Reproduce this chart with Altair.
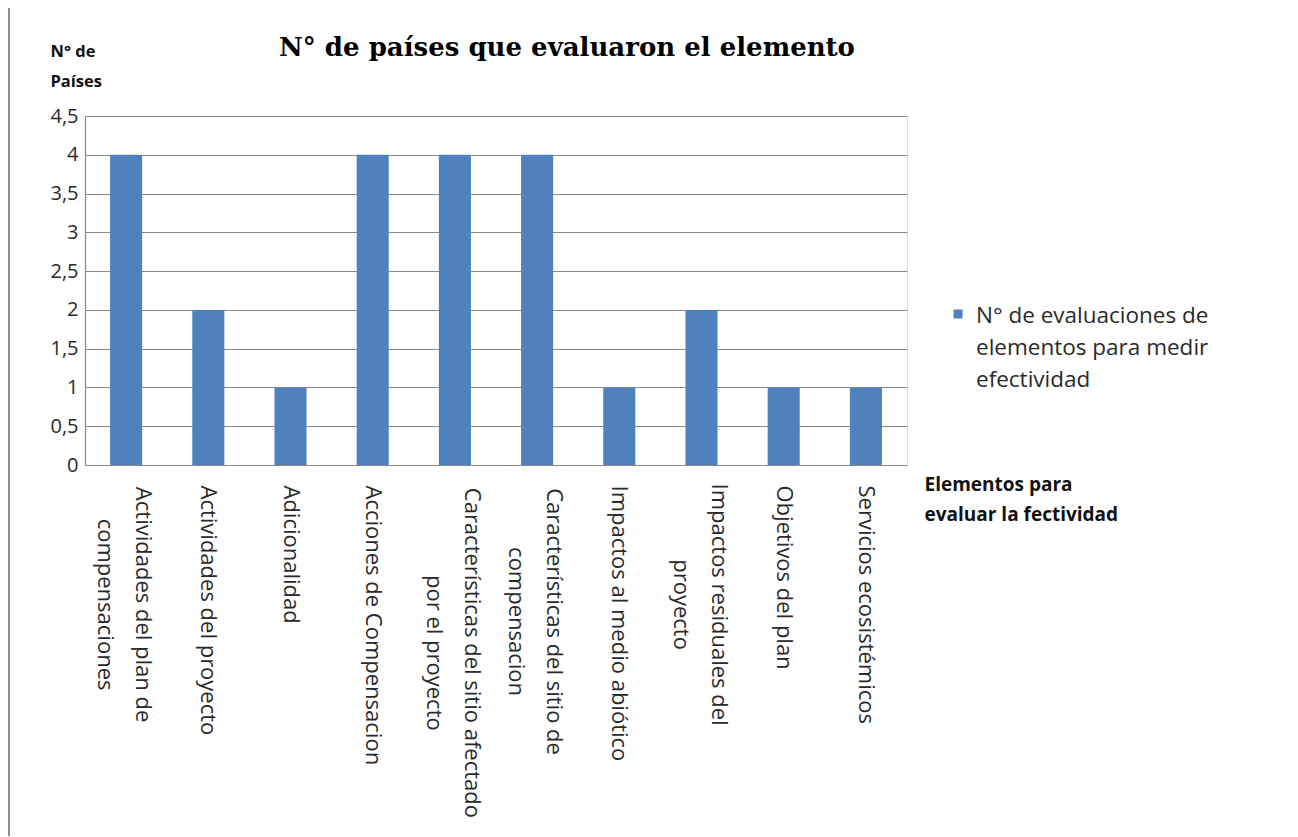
import altair as alt
import pandas as pd

categories = [
    "Actividades del plan de|compensaciones",
    "Actividades del proyecto",
    "Adicionalidad",
    "Acciones de Compensacion",
    "Características del sitio afectado|por el proyecto",
    "Características del sitio de|compensacion",
    "Impactos al medio abiótico",
    "Impactos residuales del|proyecto",
    "Objetivos del plan",
    "Servicios ecosistémicos",
]
values = [4, 2, 1, 4, 4, 4, 1, 2, 1, 1]
series_name = "N° de evaluaciones de|elementos para medir|efectividad"
title_text = "N° de países que evaluaron el elemento"
y_title = ["N° de", "Países"]
x_title = ["Elementos  para", "evaluar la fectividad"]
y_ticks = [0, 0.5, 1, 1.5, 2, 2.5, 3, 3.5, 4, 4.5]

df = pd.DataFrame({"cat": categories, "val": values})

W, H = 822, 349
FONT = "Open Sans"
BLUE = "#4F81BD"
TXT = "#2a2a2a"

is_multi = "indexof(datum.value, '|') >= 0"
first_line = "split(datum.value, '|')[0]"
n_narrow = f"(length({first_line}) - length(replace({first_line}, regexp('[iltfjrIí ]', 'g'), '')))"
est_len = f"({n_narrow} * 6.8 + (length({first_line}) - {n_narrow}) * 12.25)"

bars = alt.Chart(df).mark_bar(color=BLUE).encode(
    x=alt.X(
        "cat:N",
        sort=None,
        scale=alt.Scale(paddingInner=0.61, paddingOuter=0.305),
        axis=alt.Axis(
            title=x_title,
            titleFont=FONT,
            titleFontSize=19,
            titleFontWeight="bold",
            titleColor="#111",
            titleAngle=0,
            titleAlign="left",
            titleBaseline="alphabetic",
            titleX=839,
            titleY=25,
            titleLineHeight=30,
            labelAngle=90,
            labelAlign=alt.ExprRef(f"{is_multi} ? 'center' : 'left'"),
            labelBaseline="middle",
            labelPadding=alt.ExprRef(f"{is_multi} ? 20 + {est_len} / 2 : 20"),
            labelOffset=alt.ExprRef(f"{is_multi} ? 17 : 0"),
            labelFont=FONT,
            labelFontSize=22,
            labelColor=TXT,
            labelLineHeight=38,
            labelLimit=500,
            labelExpr="split(datum.label, '|')",
            ticks=False,
            domainColor="#8a8a8a",
            domainWidth=1.2,
        ),
    ),
    y=alt.Y(
        "val:Q",
        scale=alt.Scale(domain=[0, 4.5], nice=False),
        axis=alt.Axis(
            values=y_ticks,
            title=y_title,
            titleFont=FONT,
            titleFontSize=16.5,
            titleFontWeight="bold",
            titleColor="#111",
            titleAngle=0,
            titleAlign="left",
            titleBaseline="alphabetic",
            titleX=-35,
            titleY=-60,
            titleLineHeight=30,
            labelExpr="replace(format(datum.value, ''), '.', ',')",
            labelFont=FONT,
            labelFontSize=20,
            labelColor=TXT,
            labelPadding=7,
            ticks=False,
            grid=True,
            gridColor="#8a8a8a",
            gridWidth=1,
            domainColor="#8a8a8a",
            domainWidth=1.2,
        ),
    ),
)

ldf = pd.DataFrame({"s": [series_name]})
leg_symbol = alt.Chart(ldf).mark_point(
    shape="square", filled=True, size=80, color=BLUE, opacity=1
).encode(x=alt.value(873), y=alt.value(198))
leg_text = alt.Chart(ldf).mark_text(
    font=FONT,
    fontSize=22.5,
    color=TXT,
    align="left",
    baseline="alphabetic",
    lineBreak="|",
    lineHeight=32,
).encode(text="s:N", x=alt.value(891), y=alt.value(207))

tdf = pd.DataFrame({"t": [title_text]})
title = alt.Chart(tdf).mark_text(
    font="DejaVu Serif",
    fontSize=26,
    fontWeight="bold",
    color="#000",
    align="center",
    baseline="alphabetic",
).encode(text="t:N", x=alt.value(482), y=alt.value(-60))

frame_top = alt.Chart(tdf).mark_rule(color="#8c8c8c", strokeWidth=2).encode(
    x=alt.value(-77), x2=alt.value(1300), y=alt.value(-109)
)
frame_left = alt.Chart(tdf).mark_rule(color="#8c8c8c", strokeWidth=2).encode(
    x=alt.value(-76), y=alt.value(-110), y2=alt.value(820)
)

chart = alt.layer(bars, leg_symbol, leg_text, title, frame_top, frame_left).properties(
    width=W,
    height=H,
    autosize=alt.AutoSizeParams(type="none"),
    padding={"left": 77, "top": 108, "right": 383, "bottom": 371},
).configure_view(stroke=None).configure(background="white")

chart.save("out.html", embed_options={"renderer": "svg", "actions": False})
